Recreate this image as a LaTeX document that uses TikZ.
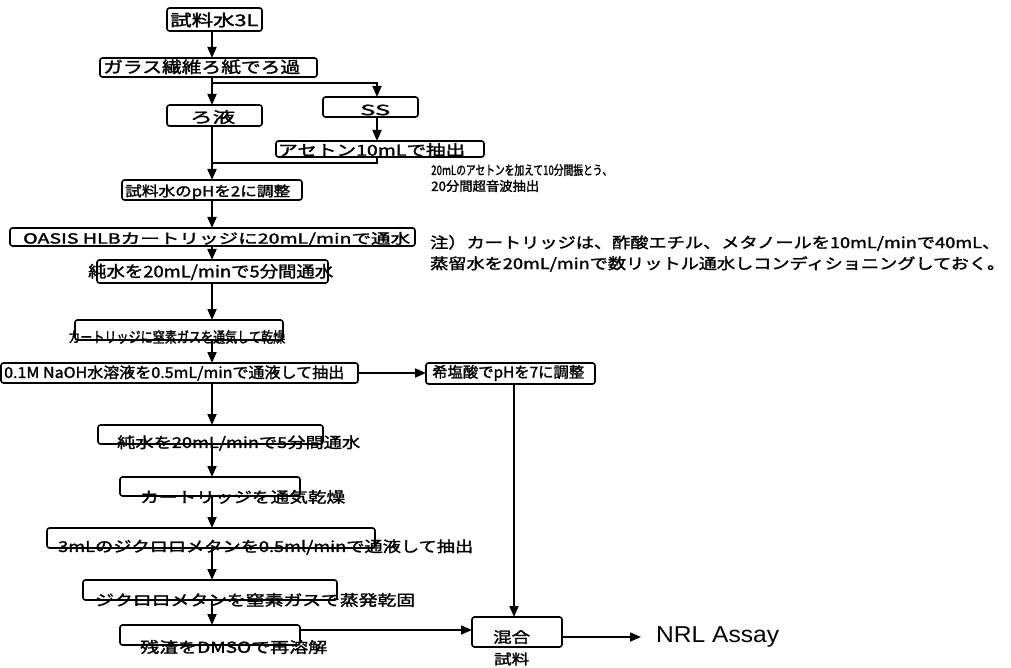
\documentclass[tikz,border=0pt]{standalone}
\usepackage{fontspec}
\usepackage{graphicx}
\usetikzlibrary{arrows.meta}
\newfontfamily\jp{Noto Sans CJK JP}[AutoFakeBold=1.6]
\newfontfamily\lat{Liberation Sans}
\newcommand{\bx}[5]{\node[boxst, minimum width=#4pt, minimum height=#5pt] (#1) at (#2,#3) {};}
\newcommand{\tx}[6]{\node[txt] (#1) at (#2,#3) {\fontsize{#5}{#5}\selectfont\resizebox{#4pt}{\height}{#6}};}
\begin{document}
\begin{tikzpicture}[x=1pt,y=-1pt,
  boxst/.style={draw, rounded corners=2.5pt, line width=1.6pt, inner sep=0pt, outer sep=0pt, anchor=north west, fill=white},
  txt/.style={inner sep=0pt, anchor=west, font=\jp\bfseries},
  ln/.style={line width=1.7pt},
  arr/.style={line width=1.7pt, -{Triangle[length=11pt,width=9pt]}}]
\useasboundingbox[fill=white] (0,0) rectangle (1011,668);
% boxes
\bx{b1}{167}{8}{95}{23}
\bx{b2}{100}{58}{217}{19}
\bx{b3}{167}{105}{95}{21}
\bx{b4}{323}{97}{95}{20}
\bx{b5}{276}{141}{208}{16}
\bx{b6}{122}{180}{180}{20}
\bx{b7}{10}{228}{405}{18}
\bx{b8}{97}{260}{231}{23}
\bx{b9}{75}{320}{208}{20}
\bx{b10}{1}{363}{357}{20}
\bx{b11}{426}{363}{169}{21}
\bx{b12}{98}{425}{225}{19}
\bx{b13}{120}{477}{180}{19}
\bx{b14}{47}{528}{328}{20}
\bx{b15}{83}{580}{254}{20}
\bx{b16}{120}{625}{180}{20}
\bx{b17}{472}{617}{90}{30}
% helper coordinates
\coordinate (tr) at (212,0);
\coordinate (sx) at (377,0);
\coordinate (mx) at (514,0);
\coordinate (br) at (212,83);
\coordinate (jn) at (212,163);
\coordinate (hy) at (0,630);
\coordinate (ny) at (0,637);
\coordinate (nrl) at (641,637);
% connectors
\draw[arr] (b1.south -| tr) -- (b2.north -| tr);
\draw[arr] (b2.south -| tr) -- (b3.north -| tr);
\draw[arr] (br) -| (b4.north -| sx);
\draw[arr] (b4.south -| sx) -- (b5.north -| sx);
\draw[arr] (b3.south -| tr) -- (b6.north -| tr);
\draw[ln] (b5.south -| sx) |- (jn);
\draw[arr] (b6.south -| tr) -- (b7.north -| tr);
\draw[arr] (b7.south -| tr) -- (b8.north -| tr);
\draw[arr] (b8.south -| tr) -- (b9.north -| tr);
\draw[arr] (b9.south -| tr) -- (b10.north -| tr);
\draw[arr] (b10.east) -- (b10.east -| b11.west);
\draw[arr] (b10.south -| tr) -- (b12.north -| tr);
\draw[arr] (b12.south -| tr) -- (b13.north -| tr);
\draw[arr] (b13.south -| tr) -- (b14.north -| tr);
\draw[arr] (b14.south -| tr) -- (b15.north -| tr);
\draw[arr] (b15.south -| tr) -- (b16.north -| tr);
\draw[arr] (b11.south -| mx) -- (b17.north -| mx);
\draw[arr] (b16.east |- hy) -- (b17.west |- hy);
\draw[arr] (b17.east |- ny) -- (nrl);
% texts
\tx{t1}{170}{20}{88}{16}{試料水3L}
\tx{t2}{103}{67}{197}{16}{ガラス繊維ろ紙でろ過}
\tx{t3}{190}{117}{45}{15}{ろ液}
\tx{t4}{360}{110}{30}{14}{SS}
\tx{t5}{278}{150}{187}{15}{アセトン10mLで抽出}
\tx{t6}{125}{192}{165}{14}{試料水のpHを2に調整}
\tx{t7}{431}{170}{181}{13}{20mLのアセトンを加えて10分間振とう、}
\tx{t8}{431}{186}{108}{13}{20分間超音波抽出}
\tx{t9}{23}{239}{387}{14}{OASIS HLBカートリッジに20mL/minで通水}
\tx{t10}{430}{243}{570}{15}{注）カートリッジは、酢酸エチル、メタノールを10mL/minで40mL、}
\tx{t11}{430}{264}{575}{15}{蒸留水を20mL/minで数リットル通水しコンディショニングしておく。}
\tx{t12}{88}{272}{245}{16}{純水を20mL/minで5分間通水}
\tx{t13}{68}{337}{217}{15}{カートリッジに窒素ガスを通気して乾燥}
\tx{t14}{4}{373}{340}{15}{0.1M NaOH水溶液を0.5mL/minで通液して抽出}
\tx{t15}{432}{373}{152}{15}{希塩酸でpHを7に調整}
\tx{t16}{117}{443}{243}{15}{純水を20mL/minで5分間通水}
\tx{t17}{140}{497}{205}{15}{カートリッジを通気乾燥}
\tx{t18}{58}{547}{415}{15}{3mLのジクロロメタンを0.5ml/minで通液して抽出}
\tx{t19}{95}{600}{320}{15}{ジクロロメタンを窒素ガスで蒸発乾固}
\tx{t20}{140}{647}{187}{15}{残渣をDMSOで再溶解}
\tx{t21}{493}{637}{37}{15}{混合}
\tx{t22}{494}{659}{35}{14}{試料}
\node[inner sep=0pt, anchor=west, font=\lat\fontsize{23}{23}\selectfont] (t23) at (656,637) {\resizebox{123pt}{\height}{NRL Assay}};
\end{tikzpicture}
\end{document}
